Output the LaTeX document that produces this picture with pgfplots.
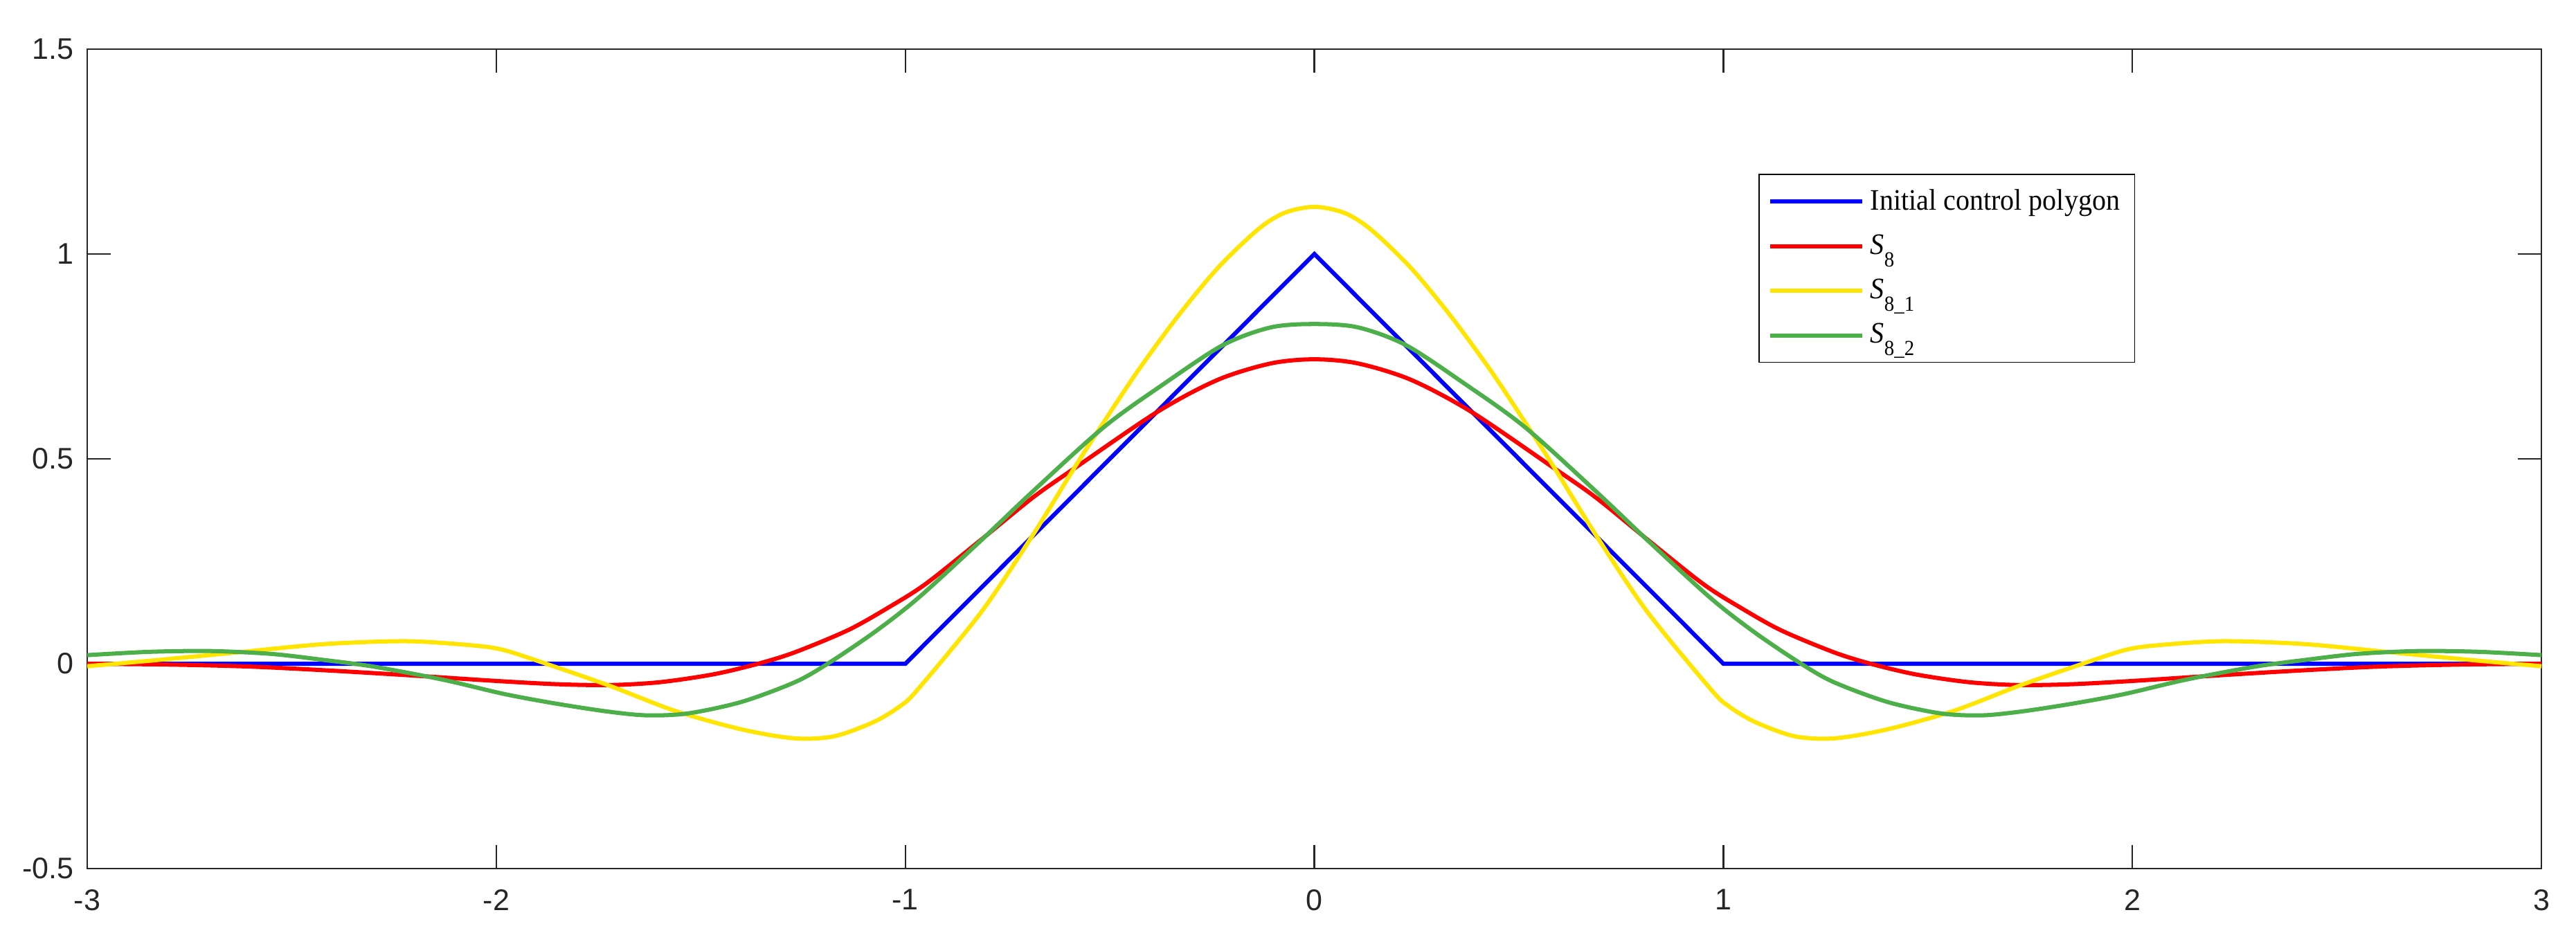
\documentclass[border=0pt]{standalone}
\usepackage{pgfplots}
\pgfplotsset{compat=1.18}
\usepackage{fontspec}
\setmainfont{Liberation Serif}[FakeStretch=0.93]
\newfontfamily\arial{Liberation Sans}
\definecolor{axgray}{RGB}{38,38,38}
\definecolor{cblue}{RGB}{0,0,255}
\definecolor{cred}{RGB}{255,0,0}
\definecolor{cyellow}{RGB}{255,229,0}
\definecolor{cgreen}{RGB}{77,175,74}
% MATLAB-style subscript: smaller and set well below the baseline
\newcommand\sub[1]{\raisebox{-4.2pt}{\fontsize{7.2}{8}\selectfont #1}}
\begin{document}
\begin{tikzpicture}
 \begin{axis}[name=ax,scale only axis,width=824.2pt,height=275.3pt,
  xmin=-3,xmax=3,ymin=-0.5,ymax=1.5,clip=false,
  xtick={-3,-2,-1,0,1,2,3},xticklabels={-3,-2,-1,0,1,2,3},
  ytick={-0.5,0,0.5,1,1.5},yticklabels={-0.5,0,0.5,1,1.5},
  tick align=inside,major tick length=7.9pt,
  axis line style={line width=0.55pt,axgray},
  every tick/.style={axgray,line width=0.55pt},
  tick label style={font=\arial\fontsize{10}{12}\selectfont,text=axgray},
  xticklabel style={yshift=-3.5pt},yticklabel style={xshift=-1pt},
  legend cell align=left,
  legend style={at={(0.681,0.848)},anchor=north west,draw=black,line width=0.4pt,
   font=\fontsize{10}{12}\selectfont,row sep=2.8pt,inner xsep=3pt,inner ysep=3pt},
  legend image code/.code={\draw[#1,line width=1.4pt] (0pt,0pt) -- (31pt,0pt);},
  every axis plot/.append style={line width=1.4pt}]
  \addplot[cblue] coordinates {(-3,0)(-1,0)(0,1)(1,0)(3,0)};
  \addlegendentry{Initial control polygon}
  \addplot[cred,smooth] coordinates {
   (-3,0)(-2.8,-0.002)(-2.6,-0.007)(-2.4,-0.017)(-2.2,-0.029)(-2.0,-0.042)
   (-1.85,-0.050)(-1.72,-0.052)(-1.6,-0.045)(-1.47,-0.026)(-1.36,0)(-1.27,0.028)
   (-1.14,0.082)(-1.04,0.138)(-0.95,0.195)(-0.818,0.300)(-0.689,0.405)(-0.585,0.478)
   (-0.385,0.614)(-0.236,0.693)(-0.106,0.733)
   (0,0.743)
   (0.106,0.733)(0.236,0.693)(0.385,0.614)(0.585,0.478)(0.689,0.405)(0.818,0.300)
   (0.95,0.195)(1.04,0.138)(1.14,0.082)(1.27,0.028)(1.36,0)(1.47,-0.026)
   (1.6,-0.045)(1.72,-0.052)(1.85,-0.050)(2.0,-0.042)(2.2,-0.029)(2.4,-0.017)
   (2.6,-0.007)(2.8,-0.002)(3,0)};
  \addlegendentry{\textit{S}\sub{8}}
  \addplot[cyellow,smooth] coordinates {
   (-3,-0.006)(-2.84,0.008)(-2.63,0.028)(-2.42,0.048)(-2.22,0.055)(-2.06,0.045)
   (-1.984,0.034)(-1.887,0.003)(-1.725,-0.053)(-1.563,-0.115)(-1.401,-0.160)
   (-1.272,-0.182)(-1.174,-0.177)(-1.077,-0.142)(-1.012,-0.103)(-0.969,-0.062)
   (-0.813,0.128)(-0.689,0.313)(-0.585,0.481)(-0.514,0.591)(-0.43,0.717)
   (-0.333,0.849)(-0.236,0.966)(-0.139,1.059)(-0.074,1.100)
   (0,1.115)
   (0.074,1.100)(0.139,1.059)(0.236,0.966)(0.333,0.849)(0.43,0.717)(0.514,0.591)
   (0.585,0.481)(0.689,0.313)(0.813,0.128)(0.969,-0.062)(1.012,-0.103)(1.077,-0.142)
   (1.174,-0.177)(1.272,-0.182)(1.401,-0.160)(1.563,-0.115)(1.725,-0.053)
   (1.887,0.003)(1.984,0.034)(2.06,0.045)(2.22,0.055)(2.42,0.048)(2.63,0.028)
   (2.84,0.008)(3,-0.006)};
  \addlegendentry{\textit{S}\sub{8\_1}}
  \addplot[cgreen,smooth] coordinates {
   (-3,0.021)(-2.85,0.029)(-2.7,0.031)(-2.55,0.024)(-2.42,0.009)(-2.3,-0.007)
   (-2.13,-0.039)(-1.98,-0.074)(-1.85,-0.098)(-1.725,-0.117)(-1.63,-0.126)
   (-1.53,-0.121)(-1.4,-0.093)(-1.27,-0.045)(-1.19,0)(-1.077,0.076)(-0.969,0.160)
   (-0.818,0.298)(-0.689,0.420)(-0.514,0.578)(-0.365,0.685)(-0.223,0.778)
   (-0.106,0.821)
   (0,0.829)
   (0.106,0.821)(0.223,0.778)(0.365,0.685)(0.514,0.578)(0.689,0.420)(0.818,0.298)
   (0.969,0.160)(1.077,0.076)(1.19,0)(1.27,-0.045)(1.4,-0.093)(1.53,-0.121)
   (1.63,-0.126)(1.725,-0.117)(1.85,-0.098)(1.98,-0.074)(2.13,-0.039)(2.3,-0.007)
   (2.42,0.009)(2.55,0.024)(2.7,0.031)(2.85,0.029)(3,0.021)};
  \addlegendentry{\textit{S}\sub{8\_2}}
 \end{axis}
 \path (ax.south west) ++(-29.3pt,-25.3pt);
 \path (ax.north east) ++(11.6pt,16.5pt);
\end{tikzpicture}
\end{document}
